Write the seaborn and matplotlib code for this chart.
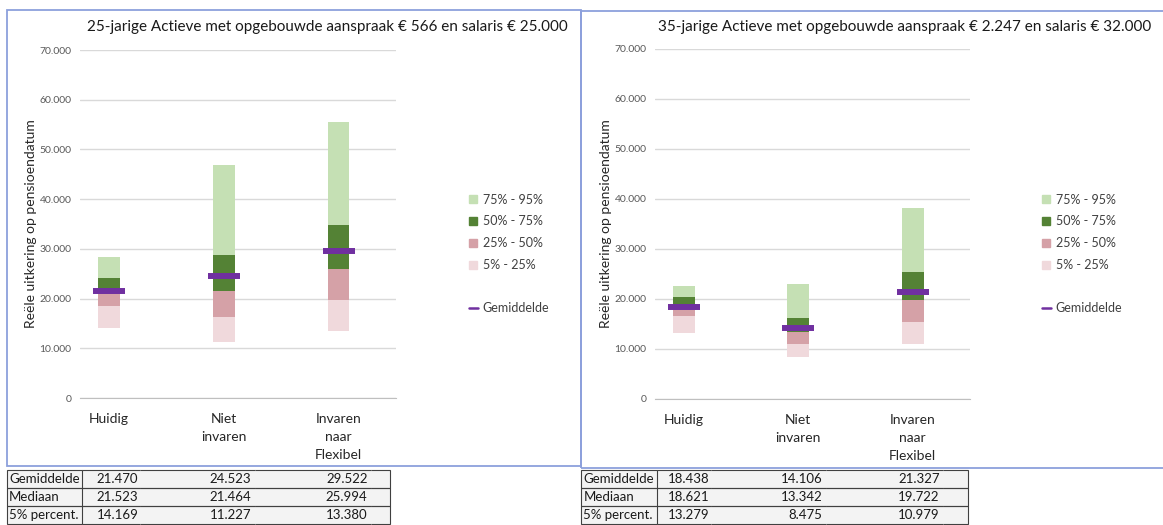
import numpy as np
import matplotlib
matplotlib.use("Agg")
import matplotlib.pyplot as plt
from matplotlib.patches import Rectangle
from matplotlib.lines import Line2D
import seaborn as sns

# --- data ---
categories = ["Huidig", "Niet\ninvaren", "Invaren\nnaar\nFlexibel"]

titel_links = "25-jarige Actieve met opgebouwde aanspraak € 566 en salaris € 25.000"
p5_links = [14169, 11227, 13380]
p25_links = [18510, 16240, 19720]
p50_links = [21523, 21464, 25994]
p75_links = [24080, 28710, 34750]
p95_links = [28300, 46820, 55600]
gem_links = [21470, 24523, 29522]

titel_rechts = "35-jarige Actieve met opgebouwde aanspraak € 2.247 en salaris € 32.000"
p5_rechts = [13279, 8475, 10979]
p25_rechts = [16670, 11070, 15470]
p50_rechts = [18621, 13342, 19722]
p75_rechts = [20330, 16270, 25330]
p95_rechts = [22670, 23000, 38200]
gem_rechts = [18438, 14106, 21327]

band_labels = ["75% - 95%", "50% - 75%", "25% - 50%", "5% - 25%"]
rij_labels = ["Gemiddelde", "Mediaan", "5% percent."]
ylabel = "Reële uitkering op pensioendatum"

# --- stijl ---
sns.set_style("white")
plt.rcParams["font.family"] = ["Lato", "DejaVu Sans"]

KLEUR_P95 = "#C5E0B4"
KLEUR_P75 = "#548235"
KLEUR_P50 = "#D5A1A7"
KLEUR_P25 = "#F0D9DC"
PAARS = "#7030A0"
RAND = "#8CA0DC"

W, H = 1163, 525
fig = plt.figure(figsize=(W / 100, H / 100), dpi=100)


def px_axes(x0, y0, x1, y1):
    # pixel box (top-left origin) -> figure axes
    return fig.add_axes([x0 / W, 1 - y1 / H, (x1 - x0) / W, (y1 - y0) / H])


def fmt(v):
    return f"{v:,.0f}".replace(",", ".")


def teken_grafiek(ax, p5, p25, p50, p75, p95, gem, label_x):
    lagen = [
        (p5, p25, KLEUR_P25),
        (p25, p50, KLEUR_P50),
        (p50, p75, KLEUR_P75),
        (p75, p95, KLEUR_P95),
    ]
    for onder, boven, kleur in lagen:
        hoogte = np.array(boven) - np.array(onder)
        sns.barplot(x=categories, y=hoogte, bottom=np.array(onder), order=categories,
                    color=kleur, saturation=1, width=0.19, errorbar=None,
                    linewidth=0, ax=ax, zorder=2)
    sns.scatterplot(x=categories, y=gem, marker="_", s=530, color=PAARS,
                    linewidth=4.3, ax=ax, zorder=4, legend=False)

    ax.set_xlim(-0.25, 2.5)
    ax.set_ylim(0, 70000)
    ax.set_yticks(np.arange(0, 70001, 10000))
    ax.set_yticklabels([fmt(v) for v in np.arange(0, 70001, 10000)])
    ax.yaxis.grid(True, color="#D9D9D9", lw=1)
    ax.xaxis.grid(False)
    ax.set_axisbelow(True)
    for s in ["top", "right", "left"]:
        ax.spines[s].set_visible(False)
    ax.spines["bottom"].set_color("#BFBFBF")
    ax.tick_params(axis="y", length=0, labelsize=7.5, labelcolor="#595959", pad=6)
    ax.set_xticks(range(len(categories)))
    ax.set_xticklabels(categories, fontsize=10, color="#262626", linespacing=1.6)
    ax.set_xticks(np.arange(-0.25, 2.3, 0.5), minor=True)
    ax.tick_params(axis="x", which="major", length=0, pad=11)
    ax.tick_params(axis="x", which="minor", length=5, color="#BFBFBF", direction="out")
    ax.set_xlabel("")
    ax.set_ylabel(ylabel, fontsize=10, color="#262626")
    ax.yaxis.set_label_coords(label_x, 0.5)


def teken_legenda(x_px):
    handles = [Line2D([], [], marker="s", ls="none", ms=5.8, color=c)
               for c in [KLEUR_P95, KLEUR_P75, KLEUR_P50, KLEUR_P25]]
    handles += [Line2D([], [], ls="none"), Line2D([], [], color=PAARS, lw=1.8)]
    labels = band_labels + ["", "Gemiddelde"]
    fig.legend(handles, labels, loc="center left", bbox_to_anchor=(x_px / W, 1 - 254 / H),
               frameon=False, fontsize=9, handlelength=0.7, handletextpad=0.4,
               labelspacing=0.78, borderpad=0, borderaxespad=0, labelcolor="#404040")


def teken_tabel(x0, x1, breedtes, gem, med, p5):
    ax = px_axes(x0, 470, x1, 524)
    # lichtgrijze achtergrond van de tabel
    ax.set_facecolor("#F3F3F3")
    ax.set_xticks([])
    ax.set_yticks([])
    for s in ax.spines.values():
        s.set_visible(False)
    rijen = [[rij_labels[0]] + [fmt(v) for v in gem] + [""],
             [rij_labels[1]] + [fmt(v) for v in med] + [""],
             [rij_labels[2]] + [fmt(v) for v in p5] + [""]]
    tot = sum(breedtes)
    tab = ax.table(cellText=rijen, bbox=[0, 0, 1, 1],
                   colWidths=[b / tot for b in breedtes], cellLoc="right")
    tab.auto_set_font_size(False)
    for (r, c), cel in tab.get_celld().items():
        cel.set_fill(False)
        cel.set_edgecolor("#404040")
        cel.set_linewidth(0.8)
        cel.PAD = 0.03
        cel.get_text().set_fontsize(9.5)
        cel.get_text().set_color("#1A1A1A")
        if c == 0:
            cel.visible_edges = "closed"
            cel.get_text().set_ha("left")
        elif c == len(breedtes) - 1:
            cel.visible_edges = "BTR"
        else:
            cel.visible_edges = "BT"


# linker paneel
ax1 = px_axes(80, 50, 396, 398)
teken_grafiek(ax1, p5_links, p25_links, p50_links, p75_links, p95_links, gem_links, -0.135)
fig.text(327 / W, 1 - 27 / H, titel_links, ha="center", va="center", fontsize=11, color="#1A1A1A")
teken_legenda(469)
teken_tabel(7, 390, [75, 58, 115, 116, 19], gem_links, p50_links, p5_links)

# rechter paneel
ax2 = px_axes(655, 49, 970, 399)
teken_grafiek(ax2, p5_rechts, p25_rechts, p50_rechts, p75_rechts, p95_rechts, gem_rechts, -0.137)
fig.text(905 / W, 1 - 27 / H, titel_rechts, ha="center", va="center", fontsize=11, color="#1A1A1A")
teken_legenda(1042)
teken_tabel(581, 968, [76, 54, 115, 117, 25], gem_rechts, p50_rechts, p5_rechts)

# blauwe kaders
fig.add_artist(Rectangle((7 / W, 1 - 466 / H), 574 / W, 456 / H, transform=fig.transFigure,
                         fill=False, ec=RAND, lw=1.3))
fig.add_artist(Rectangle((581 / W, 1 - 468 / H), 590 / W, 457 / H, transform=fig.transFigure,
                         fill=False, ec=RAND, lw=1.3))

fig.savefig("out.png", dpi=100)
